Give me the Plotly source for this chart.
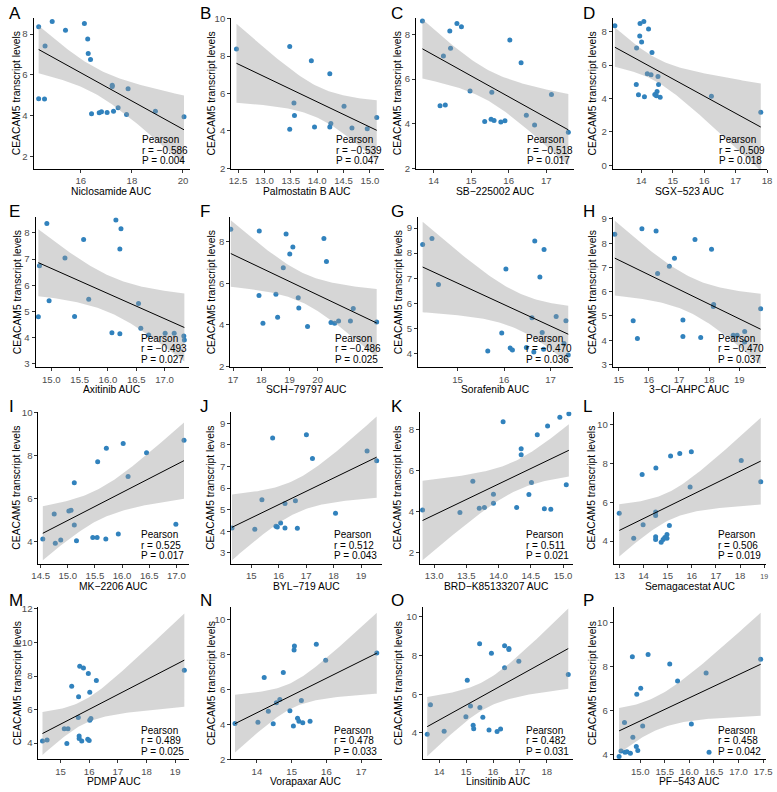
import numpy as np
import plotly.graph_objects as go

FONT = "Liberation Sans, Arial, Helvetica, sans-serif"
W, H = 777, 792

# ------------------------------------------------------------------ data
panel_letters = ["A", "B", "C", "D", "E", "F", "G", "H",
                 "I", "J", "K", "L", "M", "N", "O", "P"]
drug_titles = ["Niclosamide AUC", "Palmostatin B AUC", "SB\u2212225002 AUC", "SGX\u2212523 AUC",
               "Axitinib AUC", "SCH\u221279797 AUC", "Sorafenib AUC", "3\u2212Cl\u2212AHPC AUC",
               "MK\u22122206 AUC", "BYL\u2212719 AUC", "BRD\u2212K85133207 AUC", "Semagacestat AUC",
               "PDMP AUC", "Vorapaxar AUC", "Linsitinib AUC", "PF\u2212543 AUC"]
pearson_r = ["\u22120.586", "\u22120.539", "\u22120.518", "\u22120.509",
             "\u22120.493", "\u22120.486", "\u22120.470", "\u22120.470",
             "0.525", "0.512", "0.511", "0.506",
             "0.489", "0.478", "0.482", "0.458"]
pearson_p = ["0.004", "0.047", "0.017", "0.018",
             "0.027", "0.025", "0.036", "0.037",
             "0.017", "0.043", "0.021", "0.019",
             "0.025", "0.033", "0.031", "0.042"]
y_title = "CEACAM5 transcript levels"

# A  Niclosamide
niclosamide_auc = [14.35, 14.88, 15.40, 16.14, 14.60, 16.27, 16.29, 16.38, 17.23, 17.23, 17.85,
                   14.35, 14.58, 16.42, 16.72, 16.81, 17.03, 17.28, 17.46, 17.79, 18.92, 20.04]
niclosamide_ceacam5 = [8.35, 8.61, 8.18, 8.51, 7.41, 7.76, 7.05, 6.76, 5.50, 5.43, 5.32,
                       4.84, 4.82, 4.10, 4.15, 4.20, 4.16, 4.23, 4.40, 4.07, 4.23, 3.96]
# B  Palmostatin B
palmostatin_auc = [12.47, 13.48, 13.89, 14.24, 13.56, 14.51, 13.57, 13.48, 13.95, 14.24, 14.26,
                   14.66, 14.95, 15.13]
palmostatin_ceacam5 = [8.37, 8.51, 7.75, 7.05, 5.49, 5.32, 4.82, 4.09, 4.21, 4.21, 4.39,
                       4.16, 4.12, 4.72]
# C  SB-225002
sb225002_auc = [13.70, 14.62, 14.74, 14.43, 16.03, 14.45, 14.26, 16.33, 14.97, 15.55, 17.14,
                14.17, 14.31, 16.47, 15.36, 15.53, 15.61, 15.79, 15.90, 16.69, 17.59]
sb225002_ceacam5 = [8.61, 8.50, 8.35, 8.16, 7.75, 7.39, 7.04, 6.74, 5.47, 5.41, 5.31,
                    4.81, 4.84, 4.38, 4.10, 4.20, 4.14, 4.07, 4.13, 3.94, 3.61]
# D  SGX-523
sgx523_auc = [13.16, 13.96, 14.08, 13.95, 14.01, 13.85, 14.23, 14.34, 14.19, 14.31, 14.53,
              13.84, 14.55, 13.91, 14.10, 14.50, 14.43, 14.48, 14.60, 16.23, 17.80]
sgx523_ceacam5 = [8.35, 8.49, 8.61, 7.74, 7.39, 7.03, 8.16, 6.76, 5.48, 5.42, 5.32,
                  4.83, 4.83, 4.22, 4.10, 4.41, 4.24, 4.16, 4.08, 4.14, 3.17]
# E  Axitinib
axitinib_auc = [14.92, 16.14, 16.23, 15.57, 16.21, 15.24, 14.79, 15.66, 14.96, 16.54, 14.77,
                15.41, 16.58, 16.07, 16.21, 17.01, 17.17, 17.34, 17.35, 16.72]
axitinib_ceacam5 = [8.35, 8.49, 8.15, 7.74, 7.38, 7.04, 6.74, 5.47, 5.41, 5.30, 4.80,
                    4.81, 4.36, 4.19, 4.15, 4.17, 4.17, 4.07, 3.91, 4.10]
# F  SCH-79797
sch79797_auc = [16.92, 17.93, 18.88, 20.22, 19.12, 19.01, 20.31, 18.78, 17.92, 18.52, 19.31,
                19.33, 21.26, 18.58, 18.06, 19.64, 20.47, 20.60, 20.74, 21.16, 22.09]
sch79797_ceacam5 = [8.58, 8.49, 8.35, 8.14, 7.73, 7.39, 7.03, 6.74, 5.41, 5.47, 5.30,
                    4.81, 4.79, 4.37, 4.08, 3.93, 4.12, 4.08, 4.19, 4.19, 4.14]
# G  Sorafenib
sorafenib_auc = [14.25, 14.45, 14.59, 16.04, 16.66, 16.86, 16.77, 17.12, 17.33, 16.60, 15.95,
                 16.82, 15.65, 16.13, 16.18, 16.48, 16.64, 16.85, 17.29, 17.38]
sorafenib_ceacam5 = [8.34, 8.58, 6.75, 7.37, 8.48, 8.14, 7.05, 5.47, 5.30, 5.42, 4.81,
                     4.83, 4.09, 4.21, 4.13, 4.23, 4.05, 4.16, 4.39, 3.93]
# H  3-Cl-AHPC
clahpc_auc = [14.87, 15.77, 16.24, 17.53, 18.08, 16.85, 16.68, 16.29, 18.15, 18.14, 19.71,
              15.48, 17.13, 15.62, 17.13, 17.72, 18.80, 18.93, 19.18, 19.18]
clahpc_ceacam5 = [8.37, 8.60, 8.50, 8.15, 7.75, 7.38, 7.05, 6.75, 5.47, 5.39, 5.30,
                  4.80, 4.83, 4.07, 4.15, 4.11, 4.20, 4.20, 4.36, 3.93]
# I  MK-2206
mk2206_auc = [14.54, 14.75, 14.77, 14.87, 15.02, 15.06, 15.12, 15.12, 15.16, 15.46, 15.54,
              15.70, 15.55, 15.71, 16.02, 16.11, 15.93, 16.45, 16.99, 17.14]
mk2206_ceacam5 = [4.14, 5.30, 3.94, 4.09, 5.44, 5.47, 6.75, 4.79, 4.06, 4.20, 4.20,
                  4.14, 7.73, 8.35, 8.58, 7.04, 4.37, 8.15, 4.82, 8.73]
# J  BYL-719
byl719_auc = [14.30, 15.13, 15.39, 15.78, 15.90, 15.95, 16.07, 16.23, 16.23, 16.61, 16.68,
              17.01, 17.23, 18.07, 19.22, 19.57]
byl719_ceacam5 = [4.15, 4.09, 5.46, 8.32, 4.23, 4.20, 4.38, 4.15, 5.29, 5.41, 4.14,
                  8.47, 7.37, 4.83, 7.71, 7.26]
# K  BRD-K85133207
brd_auc = [12.82, 13.40, 13.60, 13.70, 13.78, 13.92, 13.92, 14.07, 14.28, 14.35, 14.35,
           14.51, 14.47, 14.60, 14.71, 14.76, 14.81, 14.95, 15.05, 15.09]
brd_ceacam5 = [4.08, 3.95, 5.48, 4.16, 4.20, 4.40, 4.84, 8.37, 4.20, 7.06, 6.76,
               5.42, 4.83, 7.74, 4.14, 8.16, 4.11, 8.59, 5.30, 8.75]
# L  Semagacestat
semagacestat_auc = [12.99, 13.59, 13.98, 13.94, 14.50, 14.50, 14.50, 14.50, 14.51, 14.73, 14.81,
                    14.88, 14.97, 14.97, 15.07, 15.12, 15.50, 15.98, 15.93, 18.05, 18.86]
semagacestat_ceacam5 = [5.43, 4.15, 4.84, 7.42, 5.50, 5.32, 4.22, 4.08, 7.76, 3.94, 4.08,
                        4.19, 4.15, 4.34, 4.80, 8.38, 8.51, 8.60, 6.78, 8.15, 7.05]
# M  PDMP
pdmp_auc = [14.37, 14.53, 15.13, 15.26, 15.22, 15.39, 15.63, 15.67, 15.80, 15.62, 15.65,
            15.65, 15.74, 15.97, 16.02, 16.02, 16.06, 15.95, 16.00, 16.25, 19.32]
pdmp_ceacam5 = [4.12, 4.19, 4.86, 4.86, 3.98, 7.39, 6.76, 8.59, 8.48, 5.52, 4.43,
                4.27, 4.12, 8.15, 7.04, 5.36, 5.46, 4.23, 4.16, 7.74, 8.34]
# N  Vorapaxar
vorapaxar_auc = [13.37, 14.03, 14.21, 14.33, 14.47, 14.56, 14.66, 14.76, 14.95, 15.07, 15.08,
                 15.05, 15.17, 15.21, 15.28, 15.32, 15.53, 15.71, 15.98, 17.45]
vorapaxar_ceacam5 = [4.06, 4.12, 6.69, 4.76, 4.04, 5.24, 5.43, 6.97, 4.79, 8.26, 8.50,
                     3.91, 4.36, 4.18, 5.37, 4.10, 4.18, 8.60, 7.68, 8.09]
# O  Linsitinib
linsitinib_auc = [13.55, 13.67, 14.18, 15.04, 14.99, 15.16, 15.26, 15.28, 15.50, 15.51, 15.62,
                  15.85, 15.94, 16.15, 16.28, 16.43, 16.43, 16.59, 16.59, 16.96, 18.80]
linsitinib_ceacam5 = [3.93, 5.46, 4.08, 6.73, 4.83, 5.39, 4.39, 4.22, 8.61, 5.31, 4.81,
                      4.15, 8.12, 4.07, 4.20, 8.51, 7.37, 8.37, 8.31, 7.71, 7.02]
# P  PF-543
pf543_auc = [14.57, 14.61, 14.69, 14.73, 14.80, 14.68, 14.85, 14.84, 14.93, 14.92, 14.95,
             15.01, 15.05, 15.16, 15.60, 15.76, 16.04, 16.34, 16.40, 17.45]
pf543_ceacam5 = [3.93, 4.18, 4.12, 4.15, 4.08, 5.47, 4.80, 8.46, 6.75, 4.38, 4.20,
                 7.03, 5.31, 8.56, 8.13, 7.36, 5.41, 7.72, 4.12, 8.34]

panel_x = [niclosamide_auc, palmostatin_auc, sb225002_auc, sgx523_auc,
           axitinib_auc, sch79797_auc, sorafenib_auc, clahpc_auc,
           mk2206_auc, byl719_auc, brd_auc, semagacestat_auc,
           pdmp_auc, vorapaxar_auc, linsitinib_auc, pf543_auc]
panel_y = [niclosamide_ceacam5, palmostatin_ceacam5, sb225002_ceacam5, sgx523_ceacam5,
           axitinib_ceacam5, sch79797_ceacam5, sorafenib_ceacam5, clahpc_ceacam5,
           mk2206_ceacam5, byl719_ceacam5, brd_ceacam5, semagacestat_ceacam5,
           pdmp_ceacam5, vorapaxar_ceacam5, linsitinib_ceacam5, pf543_ceacam5]

# tick values / labels
x_tickvals = [[16, 18, 20], [12.5, 13, 13.5, 14, 14.5, 15], [14, 15, 16, 17], [14, 15, 16, 17, 18],
              [15, 15.5, 16, 16.5, 17], [17, 18, 19, 20], [15, 16, 17], [15, 16, 17, 18, 19],
              [14.5, 15, 15.5, 16, 16.5, 17], [15, 16, 17, 18, 19], [13, 13.5, 14, 14.5, 15],
              [13, 14, 15, 16, 17, 18, 19],
              [15, 16, 17, 18, 19], [14, 15, 16, 17], [14, 15, 16, 17, 18], [15, 15.5, 16, 16.5, 17, 17.5]]
x_ticktext = [["16", "18", "20"], ["12.5", "13.0", "13.5", "14.0", "14.5", "15.0"],
              ["14", "15", "16", "17"], ["14", "15", "16", "17", "18"],
              ["15.0", "15.5", "16.0", "16.5", "17.0"], ["17", "18", "19", "20"],
              ["15", "16", "17"], ["15", "16", "17", "18", "19"],
              ["14.5", "15.0", "15.5", "16.0", "16.5", "17.0"], ["15", "16", "17", "18", "19"],
              ["13.0", "13.5", "14.0", "14.5", "15.0"],
              ["13", "14", "15", "16", "17", "18", "<span style='font-size:7px'>19</span>"],
              ["15", "16", "17", "18", "19"], ["14", "15", "16", "17"], ["14", "15", "16", "17", "18"],
              ["15.0", "15.5", "16.0", "16.5", "17.0", "17.5"]]
y_tickvals = [[2, 4, 6, 8], [2, 4, 6, 8, 10], [2, 4, 6, 8], [0, 2, 4, 6, 8],
              [3, 4, 5, 6, 7, 8], [2, 4, 6, 8], [4, 5, 6, 7, 8, 9], [3, 4, 5, 6, 7, 8, 9],
              [4, 6, 8, 10], [3, 4, 5, 6, 7, 8, 9], [2, 4, 6, 8], [4, 6, 8, 10],
              [4, 6, 8, 10, 12], [2, 4, 6, 8, 10], [4, 6, 8, 10], [4, 6, 8, 10]]

# ------------------------------------------------------------------ layout geometry (pixels)
# left, right, top, bottom of each plotting panel
panel_box = [(27, 186, 13, 166), (228, 383, 13, 166), (416, 577, 13, 166), (616, 773, 13, 166),
             (29, 185, 215, 367), (227, 382, 215, 367), (418, 576, 215, 367), (616, 772, 215, 367),
             (32, 185, 412, 566), (228, 381, 412, 566), (420, 576, 412, 566), (617, 772, 412, 566),
             (32, 185, 610, 764), (228, 381, 610, 764), (423, 576, 610, 764), (617, 772, 610, 764)]
x_ranges = [(14.15, 20.27), (12.37, 15.26), (13.53, 17.75), (13.09, 18.0),
            (14.72, 17.43), (16.90, 22.30), (14.15, 17.49), (14.80, 19.89),
            (14.46, 17.23), (14.27, 19.75), (12.78, 15.16), (12.76, 19.08),
            (14.23, 19.48), (13.26, 17.59), (13.39, 18.99), (14.46, 17.56)]
y_ranges = [(1.41, 8.79), (1.97, 10.04), (1.97, 8.75), (-0.22, 8.83),
            (2.87, 8.59), (1.97, 9.15), (3.44, 9.43), (2.88, 9.07),
            (2.98, 10.05), (2.49, 9.53), (1.46, 8.85), (2.83, 10.65),
            (3.03, 12.10), (2.00, 10.71), (2.63, 10.50), (3.80, 10.70)]
col_letter_x = [0, 194.5, 389, 584]
row_letter_y = [8.5, 209.5, 407, 603]
col_ytitle_x = [10, 207.5, 397.5, 595]


def px_x(p):
    return p / W


def px_y(p):
    return 1 - p / H


def t975(df):
    z = 1.959963985
    g1 = (z ** 3 + z) / 4
    g2 = (5 * z ** 5 + 16 * z ** 3 + 3 * z) / 96
    g3 = (3 * z ** 7 + 19 * z ** 5 + 17 * z ** 3 - 15 * z) / 384
    g4 = (79 * z ** 9 + 776 * z ** 7 + 1482 * z ** 5 - 1920 * z ** 3 - 945 * z) / 92160
    return z + g1 / df + g2 / df ** 2 + g3 / df ** 3 + g4 / df ** 4


fig = go.Figure()
annotations = []
layout_axes = {}

POINT = "#3182BD"
BAND = "rgba(153,153,153,0.4)"

for i in range(16):
    k = "" if i == 0 else str(i + 1)
    xa, ya = "x" + k, "y" + k
    xs = np.array(panel_x[i], dtype=float)
    ys = np.array(panel_y[i], dtype=float)
    n = len(xs)
    b, a = np.polyfit(xs, ys, 1)
    grid = np.linspace(xs.min(), xs.max(), 80)
    fit = a + b * grid
    res = ys - (a + b * xs)
    s = np.sqrt(np.sum(res ** 2) / (n - 2))
    sxx = np.sum((xs - xs.mean()) ** 2)
    se = s * np.sqrt(1.0 / n + (grid - xs.mean()) ** 2 / sxx)
    half = t975(n - 2) * se
    upper, lower = fit + half, fit - half

    fig.add_trace(go.Scatter(x=xs, y=ys, mode="markers", xaxis=xa, yaxis=ya,
                             marker=dict(color=POINT, size=5, line=dict(width=0)),
                             showlegend=False, hoverinfo="skip"))
    fig.add_trace(go.Scatter(x=np.concatenate([grid, grid[::-1]]),
                             y=np.concatenate([upper, lower[::-1]]),
                             mode="lines", fill="toself", fillcolor=BAND,
                             line=dict(width=0), xaxis=xa, yaxis=ya,
                             showlegend=False, hoverinfo="skip"))
    fig.add_trace(go.Scatter(x=grid, y=fit, mode="lines", xaxis=xa, yaxis=ya,
                             line=dict(color="black", width=1),
                             showlegend=False, hoverinfo="skip"))

    left, right, top, bottom = panel_box[i]
    axis_common = dict(showgrid=False, zeroline=False, showline=True, linecolor="black",
                       linewidth=1, ticks="outside", ticklen=3, tickwidth=1, tickcolor="#333333",
                       tickfont=dict(family=FONT, size=9.6, color="#4D4D4D"), mirror=False)
    layout_axes["xaxis" + k] = dict(axis_common, domain=[px_x(left), px_x(right)],
                                    range=list(x_ranges[i]), anchor=ya,
                                    tickmode="array", tickvals=x_tickvals[i], ticktext=x_ticktext[i])
    layout_axes["yaxis" + k] = dict(axis_common, domain=[px_y(bottom), px_y(top)],
                                    range=list(y_ranges[i]), anchor=xa,
                                    tickmode="array", tickvals=y_tickvals[i],
                                    ticktext=[str(v) for v in y_tickvals[i]])

    row, col = divmod(i, 4)
    # panel letter
    annotations.append(dict(text=panel_letters[i], x=px_x(col_letter_x[col]), y=px_y(row_letter_y[row]),
                            xref="paper", yref="paper", xanchor="left", yanchor="middle",
                            showarrow=False, font=dict(family=FONT, size=17, color="black")))
    # x title
    annotations.append(dict(text=drug_titles[i], x=px_x((left + right) / 2), y=px_y(bottom + 22.5),
                            xref="paper", yref="paper", xanchor="center", yanchor="middle",
                            showarrow=False, font=dict(family=FONT, size=10.3, color="black")))
    # y title
    annotations.append(dict(text=y_title, x=px_x(col_ytitle_x[col]), y=px_y((top + bottom) / 2),
                            xref="paper", yref="paper", xanchor="center", yanchor="middle",
                            textangle=-90, showarrow=False,
                            font=dict(family=FONT, size=10.3, color="black")))
    # Pearson block
    lines = ["Pearson", "r = " + pearson_r[i], "P = " + pearson_p[i]]
    offs = [29.5, 18.8, 8.2]
    for txt, off in zip(lines, offs):
        annotations.append(dict(text=txt, x=px_x(right - 50.5), y=px_y(bottom - off),
                                xref="paper", yref="paper", xanchor="left", yanchor="middle",
                                showarrow=False, font=dict(family=FONT, size=10, color="black")))

fig.update_layout(width=W, height=H, autosize=False,
                  margin=dict(l=0, r=0, t=0, b=0),
                  paper_bgcolor="white", plot_bgcolor="white",
                  showlegend=False, annotations=annotations, **layout_axes)

fig.write_html("out.html",
               config={"displayModeBar": False, "staticPlot": True},
               post_script="document.body.style.margin='0px';document.body.style.padding='0px';"
                           "document.body.style.overflow='hidden';")
